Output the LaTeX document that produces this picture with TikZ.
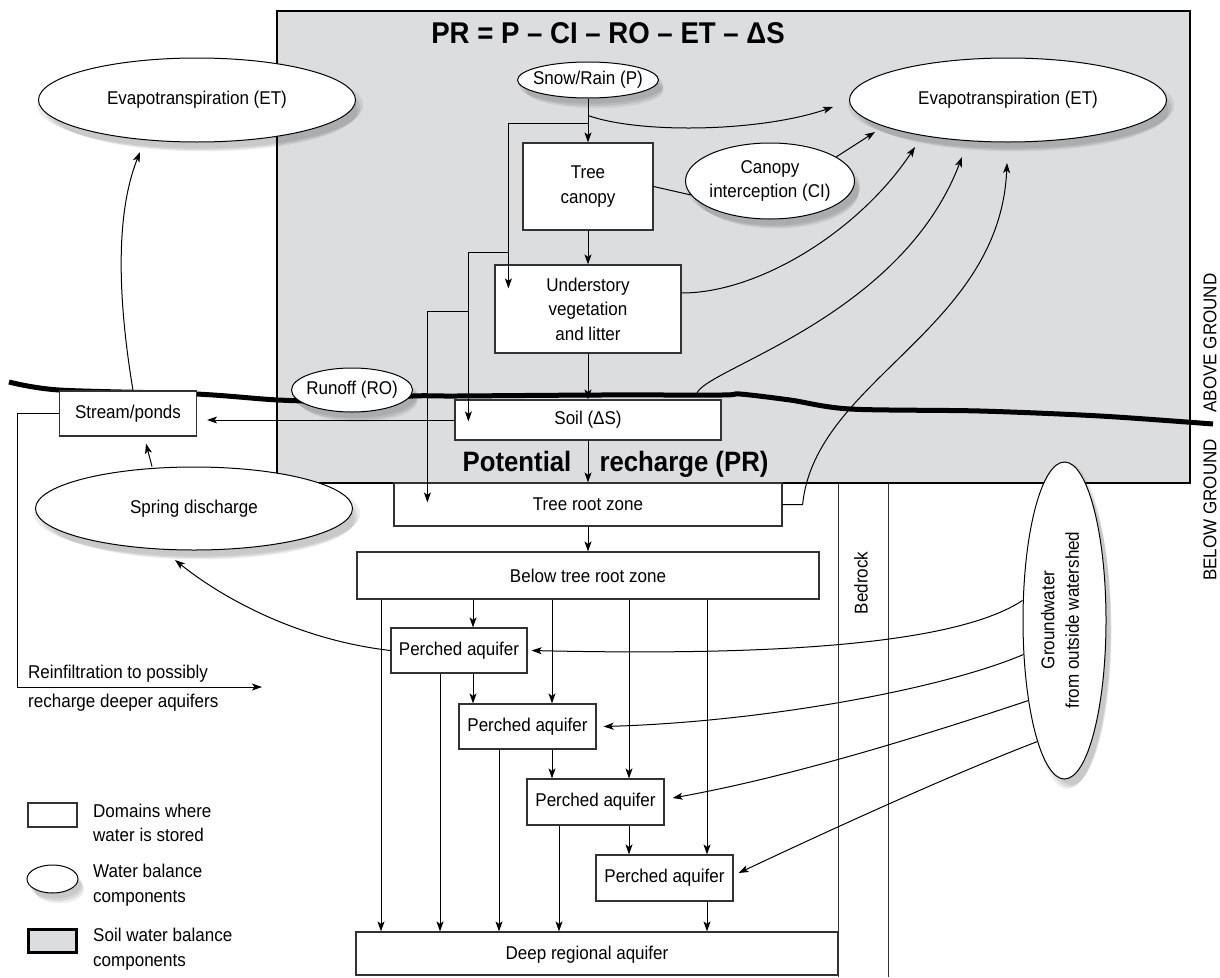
\documentclass[tikz,border=0pt]{standalone}
\usepackage{fontspec}
\setmainfont{Liberation Sans}[FakeStretch=0.92]
\usetikzlibrary{shapes.geometric,arrows.meta,shadows}
\definecolor{soilgray}{RGB}{220,221,223}
\definecolor{boxline}{RGB}{50,50,50}
\begin{document}
\begin{tikzpicture}[x=1pt,y=-1pt,
  every node/.style={font=\fontsize{18.5}{24.5}\selectfont, align=center, inner sep=0pt},
  store/.style={draw=boxline, line width=1.2pt, fill=white, rectangle},
  wbc/.style={draw=black, line width=1pt, fill=white, ellipse,
    general shadow={fill=black, opacity=0.07, shadow xshift=3pt, shadow yshift=-5pt, shadow scale=1.03},
    general shadow={fill=black, opacity=0.09, shadow xshift=5pt, shadow yshift=-8pt, shadow scale=1.0},
    general shadow={fill=black, opacity=0.07, shadow xshift=7pt, shadow yshift=-11pt, shadow scale=0.97}},
  conn/.style={line width=1pt, black},
  arr/.style={conn, -{Stealth[length=10pt,width=7pt,inset=2.5pt]}},
  bigbold/.style={font=\fontsize{30}{34}\selectfont\bfseries},
  prbold/.style={font=\fontsize{28}{32}\selectfont\bfseries},
]
\useasboundingbox (0,0) rectangle (1220,977);

% soil water balance zone
\node[draw=black, line width=2.2pt, fill=soilgray, minimum width=913, minimum height=472] (soilzone) at (733.5,247) {};

% bedrock
\draw[line width=1pt, boxline] (838,483) -- (838,977);
\draw[line width=1pt, boxline] (888,483) -- (888,977);

% ground line
\draw[line width=5pt] plot[smooth, tension=0.5] coordinates {(9,382) (59,390) (196,394) (278,400) (340,401) (413,396) (456,396) (600,395) (722,395) (740,394) (790,400) (850,409) (980,411) (1100,416) (1213,424)};

% title
\node[bigbold, anchor=base] (title) at (608,43) {PR = P – CI – RO – ET – ΔS};
\node[prbold, anchor=base] (pr1) at (517,471) {Potential};
\node[prbold, anchor=base] (pr2) at (684,471) {recharge (PR)};

% storage boxes
\node[store, minimum width=130, minimum height=87] (canopy) at (588,186.5) {Tree\\canopy};
\node[store, minimum width=186, minimum height=88] (under) at (588,309) {Understory\\vegetation\\and litter};
\node[store, minimum width=266, minimum height=40] (soil) at (588,420) {Soil (ΔS)};
\node[store, minimum width=388, minimum height=43] (troot) at (588,504.5) {Tree root zone};
\node[store, minimum width=462, minimum height=47] (below) at (588,575.5) {Below tree root zone};
\node[store, minimum width=136, minimum height=45] (p1) at (459,650.5) {Perched aquifer};
\node[store, minimum width=137, minimum height=45] (p2) at (527.5,726.5) {Perched aquifer};
\node[store, minimum width=137, minimum height=46] (p3) at (595.5,802) {Perched aquifer};
\node[store, minimum width=137, minimum height=46] (p4) at (664.5,878) {Perched aquifer};
\node[store, minimum width=482, minimum height=43] (deep) at (597,953.5) {};
\node (deeptxt) at (587,955) {Deep regional aquifer};
\node[store, minimum width=137, minimum height=45] (stream) at (128,413.5) {Stream/ponds};

% water balance components
\node[wbc, minimum width=141, minimum height=36] (snow) at (588,80) {};
\node (snowt) at (snow) {Snow/Rain (P)};
\node[wbc, minimum width=317, minimum height=84] (etR) at (1008,100) {};
\node (etRt) at (etR) {Evapotranspiration (ET)};
\node[wbc, minimum width=317, minimum height=84] (etL) at (197,100) {};
\node (etLt) at (etL) {Evapotranspiration (ET)};
\node[wbc, minimum width=169, minimum height=76] (ci) at (770,181) {};
\node (cit) at (ci) {Canopy\\interception (CI)};
\node[wbc, minimum width=121, minimum height=44] (ro) at (352,390) {};
\node (rot) at (ro) {Runoff (RO)};
\node[wbc, minimum width=317, minimum height=83] (spring) at (194,508.5) {};
\node (springt) at (spring) {Spring discharge};
\node[wbc, minimum width=83, minimum height=317] (gw) at (1064.5,620.5) {};
\node[rotate=90] (gwt) at (1060,620) {Groundwater\\from outside watershed};

% side labels
\node[rotate=90] (bedrock) at (861,583) {Bedrock};
\node[rotate=90] (aboveg) at (1210,343) {ABOVE GROUND};
\node[rotate=90] (belowg) at (1210,510) {BELOW GROUND};

% reinfiltration
\node[anchor=base west] (rf1) at (28,678) {Reinfiltration to possibly};
\node[anchor=base west] (rf2) at (28,707) {recharge deeper aquifers};
\coordinate (rfEnd) at (262,687);

% legend
\node[store, minimum width=49, minimum height=24] (legbox) at (52.5,815) {};
\node[wbc, minimum width=51, minimum height=28] (legell) at (52.5,879) {};
\node[draw=black, line width=2.5pt, fill=soilgray, minimum width=48, minimum height=23] (leggray) at (52.5,941) {};
\node[anchor=west, align=left] (legt1) at (93,823) {Domains where\\water is stored};
\node[anchor=west, align=left] (legt2) at (93,885) {Water balance\\components};
\node[anchor=west, align=left] (legt3) at (93,949) {Soil water balance\\components};

% ---- connectors ----
\draw[arr] (snow.south) -- (canopy.north);
\coordinate (jET) at ([yshift=-17pt]snow.south);
\draw[arr] (jET) .. controls (640,134) and (760,132) .. ([shift={(-175,7)}]etR.center);
\draw[arr] ([yshift=-25pt]snow.south) -| ([shift={(14,24)}]under.north west);
\coordinate (jA) at ([shift={(14,-12)}]under.north west);
\draw[arr] (jA) -| ([shift={(14,22)}]soil.north west);
\coordinate (jB) at ([shift={(14,-88)}]soil.north west);
\draw[arr] (jB) -| ([shift={(34,20)}]troot.north west);

\draw[arr] (canopy) -- (under);
\draw[arr] (under) -- (soil);
\draw[arr] (soil) -- (troot);
\draw[arr] (troot) -- (below);

\draw[conn] (canopy.east) -- (ci.190);
\draw[arr] (ci.20) -- ([shift={(-133,32)}]etR.center);
\draw[arr] ([yshift=16pt]under.east) .. controls (760,293) and (860,230) .. ([shift={(-93,47)}]etR.center);
\draw[arr] ([shift={(-25,-5)}]soil.north east) .. controls (700,370) and (900,320) .. ([shift={(-46,57)}]etR.center);
\draw[arr] (troot.east) -- ++(20,0) .. controls (815,380) and (1000,330) .. ([shift={(-1,63)}]etR.center);

\draw[arr, shorten >=10pt] (soil.west) -- (soil.west -| stream.east);
\draw[arr] ([xshift=5pt]stream.north) .. controls (118,300) and (115,215) .. ([shift={(-57,52)}]etL.center);
\draw[arr] ([xshift=-42pt]spring.north) -- ([shift={(18,7)}]stream.south);
\draw[arr] (p1.west) .. controls (300,640) and (225,600) .. ([shift={(-19,51.5)}]spring.center);
\draw[arr] (stream.west) -- ++(-41,0) |- (rfEnd);

% vertical flows
\coordinate (c1) at (381,0);
\coordinate (c2) at (440,0);
\coordinate (c3) at (473,0);
\coordinate (c4) at (499,0);
\coordinate (c5) at (552,0);
\coordinate (c6) at (559,0);
\coordinate (c7) at (629,0);
\coordinate (c8) at (707,0);
\draw[arr] (c1 |- below.south) -- (c1 |- deep.north);
\draw[arr] (c3 |- below.south) -- (c3 |- p1.north);
\draw[arr] (c3 |- p1.south) -- (c3 |- p2.north);
\draw[arr] (c2 |- p1.south) -- (c2 |- deep.north);
\draw[arr] (c5 |- below.south) -- (c5 |- p2.north);
\draw[arr] (c5 |- p2.south) -- (c5 |- p3.north);
\draw[arr] (c4 |- p2.south) -- (c4 |- deep.north);
\draw[arr] (c7 |- below.south) -- (c7 |- p3.north);
\draw[arr] (c7 |- p3.south) -- (c7 |- p4.north);
\draw[arr] (c6 |- p3.south) -- (c6 |- deep.north);
\draw[arr] (c8 |- below.south) -- (c8 |- p4.north);
\draw[arr] (c8 |- p4.south) -- (c8 |- deep.north);

% groundwater inflows
\draw[arr] ([shift={(-42,-20)}]gw.center) .. controls (955,645) and (770,656) .. ([xshift=4pt]p1.east);
\draw[arr] ([shift={(-41,34)}]gw.center) .. controls (940,690) and (760,722) .. ([xshift=7pt]p2.east);
\draw[arr] ([shift={(-36,80)}]gw.center) .. controls (940,730) and (800,775) .. ([shift={(8,-4)}]p3.east);
\draw[arr] ([shift={(-27,121)}]gw.center) .. controls (950,775) and (830,830) .. ([shift={(5,-5)}]p4.east);
\end{tikzpicture}
\end{document}
